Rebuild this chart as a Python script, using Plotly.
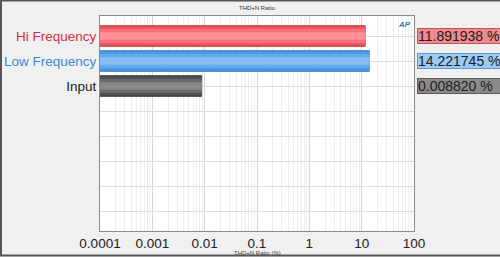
import plotly.graph_objects as go

categories = ["Hi Frequency", "Low Frequency", "Input"]
values = [11.891938, 14.221745, 0.008820]
value_labels = ["11.891938 %", "14.221745 %", "0.008820 %"]
label_colors = ["#d0303c", "#3a8ad6", "#202020"]
bar_edge = ["#c0202c", "#2a72c4", "#2a2a2a"]
bar_main = ["#ee5660", "#4a9ae6", "#505050"]
bar_mid = ["#f87078", "#64aaee", "#6a6a6a"]
bar_light = ["#ff9096", "#84beF4", "#8a8a8a"]
box_fill = ["#f0898c", "#9ccaf2", "#8a8a8a"]
box_edge = ["#c85058", "#5a9ad8", "#5a5a5a"]
x_ticks = [0.0001, 0.001, 0.01, 0.1, 1, 10, 100]
x_ticktext = ["0.0001", "0.001", "0.01", "0.1", "1", "10", "100"]
n_slots = 8

W, H = 500, 257
L, R, T, B = 100, 86, 16, 26
pw, ph = W - L - R, H - T - B

ypos = list(range(len(categories)))
fig = go.Figure()
# layered bars to imitate glossy gradient
for width, colors in [(0.86, bar_edge), (0.78, bar_main), (0.56, bar_mid), (0.3, bar_light)]:
    fig.add_trace(go.Bar(
        x=values, y=ypos, orientation="h", base=0.0001, width=width,
        marker=dict(color=colors, line=dict(width=0)),
        hoverinfo="skip", showlegend=False))

ticktext = [f"<span style='color:{c}'>{n}</span>" for n, c in zip(categories, label_colors)]
ticktext += [""] * (n_slots - len(categories))

fig.update_layout(
    width=W, height=H, barmode="overlay",
    margin=dict(l=L, r=R, t=T, b=B, autoexpand=False),
    paper_bgcolor="#f0f0f0", plot_bgcolor="#ffffff",
    font=dict(family="Liberation Sans, Arial, sans-serif", color="#202020"),
    xaxis=dict(
        type="log", range=[-4, 2], tickvals=x_ticks, ticktext=x_ticktext,
        tickfont=dict(size=13.5, color="#202020"), ticks="", ticklabelstandoff=0,
        showgrid=True, gridcolor="#d6d6d6", gridwidth=1,
        minor=dict(showgrid=True, gridcolor="#efefef", dtick="D1"),
        showline=True, linecolor="#8a8a8a", linewidth=1, mirror=True,
        zeroline=False, automargin=False,
    ),
    yaxis=dict(
        range=[n_slots - 0.2, -0.8], tickvals=list(range(n_slots)), ticktext=ticktext,
        tickfont=dict(size=13.5),
        ticks="", ticklabelstandoff=0,
        showgrid=True, gridcolor="#dedede", gridwidth=1,
        showline=True, linecolor="#8a8a8a", linewidth=1, mirror=True,
        zeroline=False, automargin=False,
    ),
)

# chart title
fig.add_annotation(text="THD+N Ratio", xref="paper", yref="paper", x=0.5,
                   y=1 + 8 / ph, showarrow=False, font=dict(size=6, color="#303030"),
                   xanchor="center", yanchor="middle")
# x-axis title
fig.add_annotation(text="THD+N Ratio (%)", xref="paper", yref="paper", x=0.5,
                   y=-21.5 / ph, showarrow=False, font=dict(size=6, color="#404040"),
                   xanchor="center", yanchor="middle")
# logo
fig.add_annotation(text="<b><i>AP</i></b>", xref="paper", yref="paper",
                   x=1 - 10 / pw, y=1 - 8 / ph, showarrow=False,
                   font=dict(size=8, color="#3a78a8"), xanchor="center", yanchor="middle")
# value boxes
for i, (txt, fc, ec) in enumerate(zip(value_labels, box_fill, box_edge)):
    fig.add_annotation(text=txt, xref="paper", yref="y", x=1 + 3 / pw, y=i,
                       xanchor="left", yanchor="middle", showarrow=False,
                       align="left", width=92, height=14, borderpad=0,
                       bgcolor=fc, bordercolor=ec, borderwidth=1,
                       font=dict(size=14, color="#202020"))

# outer frame lines
fx0, fx1 = -L / pw, 1 + R / pw
fy_top, fy_bot = 1 + (T - 0.5) / ph, -(B - 1.5) / ph
for x0, y0, x1, y1 in [(fx0, fy_top, fx1, fy_top), (fx0, fy_bot, fx1, fy_bot),
                       (fx0 + 1 / pw, fy_bot, fx0 + 1 / pw, fy_top)]:
    fig.add_shape(type="line", xref="paper", yref="paper", x0=x0, y0=y0, x1=x1, y1=y1,
                  line=dict(color="#555555", width=2), layer="above")

fig.write_html("out.html")
